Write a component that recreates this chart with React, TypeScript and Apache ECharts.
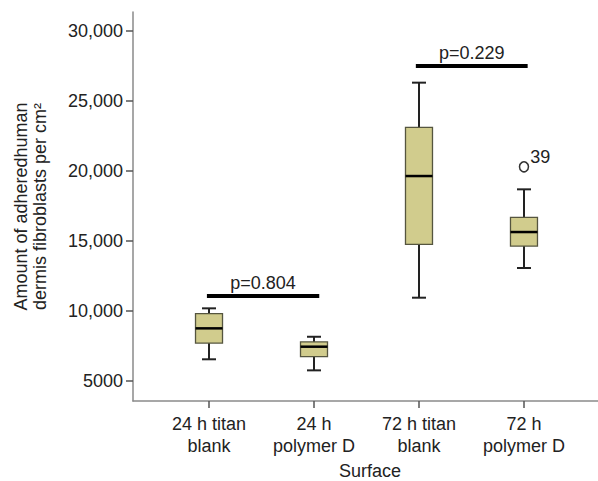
import React, { useEffect, useRef } from "react";
import * as echarts from "echarts";

const categories = ["24 h titan\nblank", "24 h\npolymer D", "72 h titan\nblank", "72 h\npolymer D"];
const categoryPositions = [1, 2, 3, 4];
const mins = [6550, 5760, 10950, 13070];
const q1s = [7710, 6740, 14760, 14640];
const medians = [8760, 7450, 19640, 15640];
const q3s = [9810, 7790, 23120, 16690];
const maxs = [10190, 8160, 26310, 18690];

const outlierPoints = [[4, 20300]];
const outlierLabels = ["39"];

const sigLabels = ["p=0.804", "p=0.229"];
const sigStartX = [0.98, 2.97];
const sigEndX = [2.05, 4.035];
const sigY = [11070, 27500];

const yTicks = [5000, 10000, 15000, 20000, 25000, 30000];
const yTickLabels = ["5000", "10,000", "15,000", "20,000", "25,000", "30,000"];

const FONT = "'Liberation Sans', Arial, Helvetica, sans-serif";

export default function App() {
  const ref = useRef<HTMLDivElement>(null);
  useEffect(() => {
    document.body.style.margin = "0";
    const chart = echarts.init(ref.current!, null, { renderer: "svg" });
    const boxData = categoryPositions.map((x, i) => [x, mins[i], q1s[i], medians[i], q3s[i], maxs[i]]);
    const sigSeries: any[] = sigLabels.map((lab, i) => ({
      type: "line",
      data: [
        [sigStartX[i], sigY[i]],
        [sigEndX[i], sigY[i]],
      ],
      symbol: "none",
      lineStyle: { color: "#000", width: 4 },
      silent: true,
      z: 5,
    }));
    const sigText: any = {
      type: "scatter",
      symbolSize: 0,
      itemStyle: { opacity: 1 },
      data: sigLabels.map((lab, i) => ({
        value: [(sigStartX[i] + sigEndX[i]) / 2, sigY[i]],
        label: { formatter: lab },
      })),
      label: {
        show: true,
        position: "top",
        distance: 4,
        color: "#222",
        fontSize: 18,
        fontFamily: FONT,
      },
      silent: true,
    };
    const option: any = {
      animation: false,
      textStyle: { fontFamily: FONT },
      grid: { left: 133, right: 0, top: 12, bottom: 80, containLabel: false, outerBoundsMode: "none" },
      xAxis: {
        type: "value",
        min: 0.276,
        max: 4.705,
        name: "Surface",
        nameLocation: "middle",
        nameGap: 61,
        nameTextStyle: { fontSize: 18, color: "#222", fontFamily: FONT, padding: [0, 0, 0, 9] },
        axisLine: { lineStyle: { color: "#8a8a8a", width: 1.5 } },
        axisTick: { show: true, length: 7, customValues: categoryPositions, lineStyle: { color: "#555", width: 1.5 } },
        axisLabel: {
          customValues: categoryPositions,
          formatter: (v: number) => categories[Math.round(v) - 1] ?? "",
          fontSize: 18,
          color: "#222",
          fontFamily: FONT,
          lineHeight: 22,
          margin: 12,
        },
        splitLine: { show: false },
      },
      yAxis: {
        type: "value",
        min: 3571,
        max: 31357,
        name: "Amount of adheredhuman\ndermis fibroblasts per cm²",
        nameLocation: "middle",
        nameGap: 84,
        nameTextStyle: { fontSize: 18, color: "#222", fontFamily: FONT, lineHeight: 19 },
        axisLine: { show: true, lineStyle: { color: "#8a8a8a", width: 1.5 } },
        axisTick: { show: true, length: 7, customValues: yTicks, lineStyle: { color: "#555", width: 1.5 } },
        axisLabel: {
          customValues: yTicks,
          formatter: (v: number) => yTickLabels[yTicks.indexOf(v)] ?? "",
          fontSize: 18,
          color: "#222",
          fontFamily: FONT,
          margin: 10,
        },
        splitLine: { show: false },
      },
      series: [
        {
          type: "custom",
          data: boxData,
          encode: { x: 0, y: [1, 2, 3, 4, 5] },
          renderItem: (params: any, api: any) => {
            const x = api.value(0);
            const px = api.coord([x, api.value(1)])[0];
            const yMin = api.coord([x, api.value(1)])[1];
            const yQ1 = api.coord([x, api.value(2)])[1];
            const yMed = api.coord([x, api.value(3)])[1];
            const yQ3 = api.coord([x, api.value(4)])[1];
            const yMax = api.coord([x, api.value(5)])[1];
            const bw = 27;
            const cw = 14;
            const wStyle = { stroke: "#222", lineWidth: 2 };
            return {
              type: "group",
              children: [
                { type: "line", shape: { x1: px, y1: yMin, x2: px, y2: yQ1 }, style: wStyle },
                { type: "line", shape: { x1: px, y1: yQ3, x2: px, y2: yMax }, style: wStyle },
                { type: "line", shape: { x1: px - cw / 2, y1: yMin, x2: px + cw / 2, y2: yMin }, style: wStyle },
                { type: "line", shape: { x1: px - cw / 2, y1: yMax, x2: px + cw / 2, y2: yMax }, style: wStyle },
                {
                  type: "rect",
                  shape: { x: px - bw / 2, y: yQ3, width: bw, height: yQ1 - yQ3 },
                  style: { fill: "#d1cc8d", stroke: "#55553f", lineWidth: 1.3 },
                },
                {
                  type: "line",
                  shape: { x1: px - bw / 2, y1: yMed, x2: px + bw / 2, y2: yMed },
                  style: { stroke: "#000", lineWidth: 2.5 },
                },
              ],
            };
          },
          silent: true,
        },
        ...sigSeries,
        sigText,
        {
          type: "scatter",
          data: outlierPoints.map((p, i) => ({ value: p, label: { formatter: outlierLabels[i] } })),
          symbol: "circle",
          symbolSize: [9, 10],
          itemStyle: { color: "rgba(0,0,0,0)", borderColor: "#333", borderWidth: 1.6, opacity: 1 },
          label: {
            show: true,
            position: "right",
            offset: [-4, -10],
            distance: 5,
            fontSize: 18,
            color: "#222",
            fontFamily: FONT,
          },
          silent: true,
          z: 6,
        },
      ],
    };
    chart.setOption(option);
    return () => chart.dispose();
  }, []);
  return <div ref={ref} style={{ position: "absolute", left: 0, top: 0, width: 598, height: 481 }} />;
}
